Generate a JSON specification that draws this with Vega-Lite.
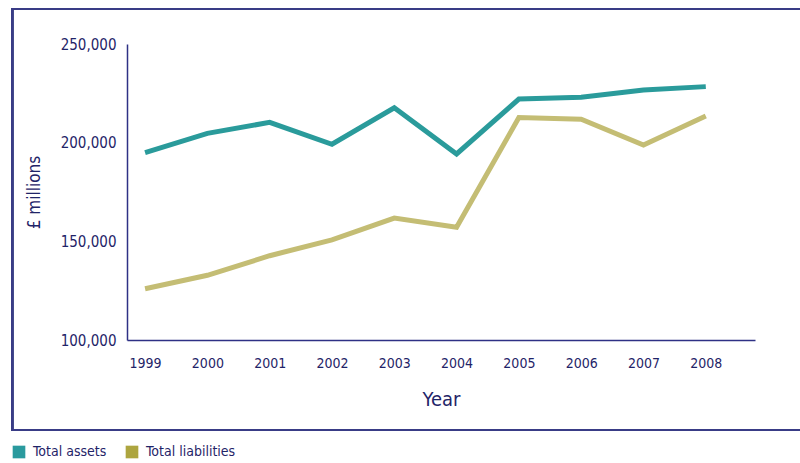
{
  "$schema": "https://vega.github.io/schema/vega-lite/v6.json",
  "autosize": {"type": "none"},
  "width": 628,
  "height": 296,
  "padding": {"left": 127, "top": 44, "right": 45, "bottom": 123},
  "background": "white",
  "config": {
    "view": {"stroke": null},
    "font": "DejaVu Sans Condensed, DejaVu Sans, sans-serif",
    "axis": {"labelFont": "DejaVu Sans Condensed, DejaVu Sans, sans-serif", "titleFont": "DejaVu Sans Condensed, DejaVu Sans, sans-serif", "labelColor": "#1f2468", "titleColor": "#1f2468", "domainColor": "#2e3185", "domainWidth": 1.5, "ticks": false, "grid": false}
  },
  "data": {
    "values": [
      {"year": 1999, "series": "Total assets", "value": 194900},
      {"year": 2000, "series": "Total assets", "value": 204700},
      {"year": 2001, "series": "Total assets", "value": 210300},
      {"year": 2002, "series": "Total assets", "value": 199200},
      {"year": 2003, "series": "Total assets", "value": 217700},
      {"year": 2004, "series": "Total assets", "value": 194300},
      {"year": 2005, "series": "Total assets", "value": 222100},
      {"year": 2006, "series": "Total assets", "value": 223000},
      {"year": 2007, "series": "Total assets", "value": 226700},
      {"year": 2008, "series": "Total assets", "value": 228400},
      {"year": 1999, "series": "Total liabilities", "value": 126000},
      {"year": 2000, "series": "Total liabilities", "value": 132800},
      {"year": 2001, "series": "Total liabilities", "value": 142700},
      {"year": 2002, "series": "Total liabilities", "value": 150700},
      {"year": 2003, "series": "Total liabilities", "value": 161800},
      {"year": 2004, "series": "Total liabilities", "value": 157100},
      {"year": 2005, "series": "Total liabilities", "value": 212700},
      {"year": 2006, "series": "Total liabilities", "value": 211900},
      {"year": 2007, "series": "Total liabilities", "value": 198800},
      {"year": 2008, "series": "Total liabilities", "value": 213500}
    ]
  },
  "layer": [
    {
      "mark": {"type": "rect", "fill": null, "stroke": "#3a3c86", "strokeWidth": 1.5, "clip": false},
      "encoding": {
        "x": {"datum": 1996.87, "type": "quantitative"},
        "x2": {"datum": 2009.8},
        "y": {"datum": 267700, "type": "quantitative"},
        "y2": {"datum": 54400}
      }
    },
    {
      "mark": {"type": "line", "strokeWidth": 5, "strokeJoin": "miter", "clip": false},
      "encoding": {
        "x": {
          "field": "year", "type": "quantitative",
          "scale": {"domain": [1998.71, 2008.79], "nice": false, "zero": false},
          "axis": {"values": [1999, 2000, 2001, 2002, 2003, 2004, 2005, 2006, 2007, 2008], "format": "d", "labelFontSize": 14, "labelPadding": 16, "title": "Year", "titleFontSize": 20, "titleFontWeight": "normal", "titlePadding": 19}
        },
        "y": {
          "field": "value", "type": "quantitative",
          "scale": {"domain": [100000, 250000], "nice": false, "zero": false},
          "axis": {"values": [100000, 150000, 200000, 250000], "format": ",d", "labelFontSize": 15, "labelPadding": 11, "title": "£ millions", "titleFontSize": 17, "titleFontWeight": "normal", "titlePadding": 17}
        },
        "color": {
          "field": "series", "type": "nominal",
          "scale": {"domain": ["Total assets", "Total liabilities"], "range": ["#2a9b9b", "#c4bd74"]},
          "legend": {
            "title": null, "orient": "none", "direction": "horizontal", "legendX": -115, "legendY": 401,
            "symbolType": "square", "symbolSize": 160, "labelFontSize": 14, "labelColor": "#1f2468",
            "labelFont": "DejaVu Sans Condensed, DejaVu Sans, sans-serif", "columnPadding": 18, "labelOffset": 7,
            "encode": {"symbols": {"update": {"fill": {"signal": "datum.value === 'Total liabilities' ? '#ada53f' : '#2a9a9e'"}, "strokeWidth": {"value": 0}, "opacity": {"value": 1}}}}
          }
        }
      }
    }
  ]
}
